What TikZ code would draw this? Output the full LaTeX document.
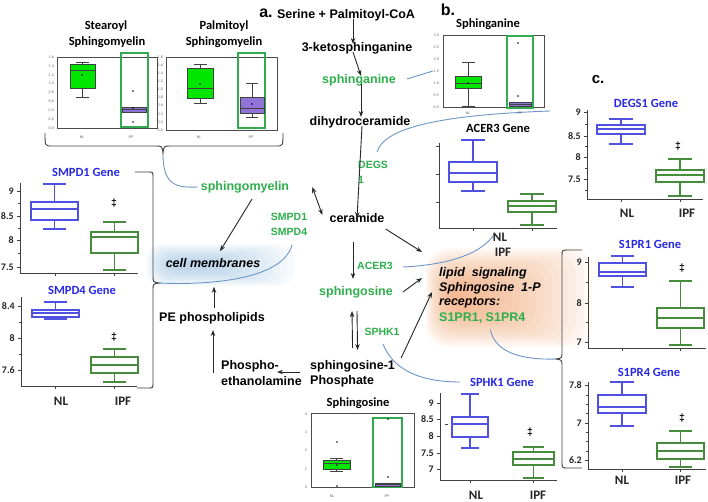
\documentclass[tikz,border=0pt]{standalone}
\usepackage{fontspec}
\setmainfont{Liberation Sans}
\newfontfamily\plotfont{Carlito}
\usetikzlibrary{arrows.meta}
\definecolor{lgreen}{RGB}{45,175,75}
\definecolor{titleblue}{RGB}{40,40,230}
\definecolor{boxblue}{RGB}{80,80,225}
\definecolor{boxgreen}{RGB}{70,140,60}
\definecolor{fgreen}{RGB}{0,230,0}
\definecolor{bpurple}{RGB}{145,115,215}
\definecolor{framegreen}{RGB}{50,170,80}
\definecolor{connblue}{RGB}{110,150,200}
\definecolor{glowor}{RGB}{245,150,90}
\definecolor{glowbl}{RGB}{130,180,220}
\newcommand{\bxp}[8]{%
  \pgfmathsetmacro\bxc{(#1+#2)/2}\pgfmathsetmacro\bxw{(#2-#1)/4}%
  \draw[#8,fill=none] (\bxc,#3) -- (\bxc,#4) (\bxc,#6) -- (\bxc,#7);
  \draw[#8,fill=none] (\bxc-\bxw,#3) -- (\bxc+\bxw,#3) (\bxc-\bxw,#7) -- (\bxc+\bxw,#7);
  \path[#8] (#1,#4) rectangle (#2,#6);
  \draw[#8,fill=none] (#1,#5) -- (#2,#5);
}
\begin{document}
\begin{tikzpicture}[x=1pt,y=-1pt,
 pth/.style={font=\fontsize{12.5}{14}\selectfont\bfseries, inner sep=1pt},
 gpth/.style={pth, text=lgreen},
 enz/.style={font=\fontsize{10.5}{12}\selectfont\bfseries, text=lgreen, inner sep=1pt},
 arr/.style={-{Stealth[length=6pt,width=4.5pt]}, line width=0.9pt, black!85},
 darr/.style={{Stealth[length=6pt,width=4.5pt]}-{Stealth[length=6pt,width=4.5pt]}, line width=0.9pt, black!85},
 conn/.style={draw=connblue, line width=0.9pt},
 ptitle/.style={font=\plotfont\fontsize{12.5}{14}\selectfont\bfseries, inner sep=0pt},
 gtitle/.style={ptitle, text=titleblue},
 ylab/.style={font=\plotfont\fontsize{10}{11}\selectfont\bfseries, inner sep=0pt, anchor=east, text=black!85},
 grp/.style={font=\plotfont\fontsize{13}{14}\selectfont\bfseries, inner sep=0pt, text=black!85},
 tinylab/.style={font=\plotfont\fontsize{4}{4}\selectfont, text=black!60, inner sep=0pt},
 ax/.style={line width=0.9pt, black!75},
 mt/.style={line width=0.6pt, black!75},
 gb/.style={draw=boxblue, line width=1.1pt},
 gg/.style={draw=boxgreen, line width=1.1pt},
 sg/.style={draw=black!75, fill=fgreen, line width=0.6pt},
 sp/.style={draw=black!75, fill=bpurple, line width=0.6pt},
 frm/.style={draw=black!70, line width=0.6pt},
 gfrm/.style={draw=framegreen, line width=1.2pt},
 dag/.style={font=\fontsize{10.5}{10}\selectfont\bfseries, inner sep=0pt},
 brc/.style={draw=black!75, line width=0.9pt},
 big/.style={font=\fontsize{16}{18}\selectfont\bfseries, inner sep=0pt}
]
\useasboundingbox (0,0) rectangle (708,501);
\fill[white] (0,0) rectangle (708,501);

% ---------- glows ----------
\foreach \i in {0,...,15}
  \fill[glowor, opacity=0.055, rounded corners=22] (426+1.5*\i,248+2.5*\i) rectangle (592-8*\i,347-2.5*\i);
\foreach \i in {0,...,11}
  \fill[glowbl, opacity=0.05, rounded corners=14] (146+2*\i,244+1.5*\i) rectangle (294-7*\i,286-1.5*\i);

% ---------- pathway ----------
\node[big] (a) at (266,13) {a.};
\node[pth] (serine) at (346,15) {Serine + Palmitoyl-CoA};
\node[pth] (keto) at (357,48) {3-ketosphinganine};
\node[gpth] (sphinganine) at (359,80) {sphinganine};
\node[pth] (dihydro) at (360,122) {dihydroceramide};
\node[enz,anchor=west] (degs) at (357,165) {DEGS};
\node[enz,anchor=west] (degsone) at (357,180) {1};
\node[pth] (ceramide) at (357,218) {ceramide};
\node[gpth] (sphingomyelin) at (245,187) {sphingomyelin};
\node[enz] (smpd1) at (289,217) {SMPD1};
\node[enz] (smpd4) at (289,232) {SMPD4};
\node[pth, font=\fontsize{12.5}{14}\selectfont\bfseries\itshape] (cellm) at (213,263) {cell membranes};
\node[pth] (pe) at (212,318) {PE phospholipids};
\node[pth,anchor=west] (phospho) at (220,366) {Phospho-};
\node[pth,anchor=west] (ethanol) at (220,381) {ethanolamine};
\node[pth,anchor=west] (s1p) at (309,366) {sphingosine-1};
\node[pth,anchor=west] (phosphate) at (309,381) {Phosphate};
\node[enz] (acer3) at (375,266) {ACER3};
\node[gpth] (sphingosine) at (356,292) {sphingosine};
\node[enz] (sphk1) at (382,332) {SPHK1};
\node[pth, font=\fontsize{12.5}{14}\selectfont\bfseries\itshape, anchor=west] (lip1) at (438,273) {lipid\ \ signaling};
\node[pth, font=\fontsize{12.5}{14}\selectfont\bfseries\itshape, anchor=west] (lip2) at (438,288) {Sphingosine\ \ 1-P};
\node[pth, font=\fontsize{12.5}{14}\selectfont\bfseries\itshape, anchor=west] (lip3) at (438,303) {receptors:};
\node[gpth, anchor=west] (lip4) at (438,318) {S1PR1, S1PR4};

% arrows
\draw[arr] ([xshift=7,yshift=3]serine.south) -- ([xshift=-4,yshift=-3]keto.north);
\draw[arr] ([xshift=-4,yshift=3]keto.south) -- ([xshift=2,yshift=-3]sphinganine.north);
\draw[arr] ([xshift=2,yshift=3]sphinganine.south) -- ([xshift=1,yshift=-2]dihydro.north);
\draw[arr] ([xshift=2,yshift=3]dihydro.south) -- ([yshift=-6]ceramide.north);
\draw[darr] ([shift={(22,0)}]sphingomyelin.east) -- ([shift={(-6,-3)}]ceramide.west);
\draw[arr] ([shift={(7,5)}]sphingomyelin.south) -- ([shift={(7,-6)}]cellm.north);
\draw[arr] ([shift={(2,-3)}]pe.north) -- ([shift={(1,18)}]cellm.south);
\draw[arr] ([shift={(-7,7)}]phospho.west) -- ([shift={(1,5)}]pe.south);
\draw[arr] ([shift={(-9,6)}]s1p.west) -- ([shift={(-3,6)}]phospho.east);
\draw[arr] ([shift={(-4,18)}]ceramide.south) -- ([shift={(-3,-6)}]sphingosine.north);
\draw[arr] ([shift={(0,-11)}]s1p.north) -- ([shift={(-4,12)}]sphingosine.south);
\draw[arr] ([shift={(1,12)}]sphingosine.south) -- ([shift={(5,-9)}]s1p.north);
\draw[arr] ([shift={(0,11)}]ceramide.east) -- ([shift={(-16,-21)}]lip1.west);
\draw[arr] ([shift={(9,0)}]sphingosine.east) -- ([shift={(-16,-10)}]lip2.west);
\draw[arr] ([shift={(5,-8)}]s1p.east) -- ([shift={(-6,4)}]lip2.west);

% ---------- braces ----------
\draw[brc] (45,133) .. controls (45,146) .. (52,146) -- (156,146) .. controls (162,146) .. (163,153) .. controls (164,146) .. (170,146) -- (276,146) .. controls (283,146) .. (283,133);
\draw[brc] (135,172) -- (148,172) .. controls (153,172) .. (153,177) -- (153,276) .. controls (153,282) .. (159,283) .. controls (153,284) .. (153,290) -- (153,383) .. controls (153,388) .. (148,388) -- (137,388);
\draw[brc] (582,250) -- (568,250) .. controls (562,250) .. (562,256) -- (562,352) .. controls (562,358) .. (556,359) .. controls (562,360) .. (562,366) -- (562,462) .. controls (562,468) .. (568,468) -- (582,468);
\coordinate (topbrace) at (163,154);
\coordinate (smpdtip) at (159,283);
\coordinate (s1prtip) at (556,359);
\coordinate (degsplot) at (550,111);
\coordinate (sphplot) at (433,71);

% ---------- blue connectors ----------
\draw[conn] (topbrace) .. controls (163,185) and (176,188) .. ([xshift=-2]sphingomyelin.west);
\draw[conn] ([shift={(3,8)}]smpd4.south) .. controls (282,282) and (200,285) .. (smpdtip);
\draw[conn] ([shift={(10,-1)}]sphinganine.east) -- (sphplot);
\draw[conn] ([shift={(4,-8)}]degs.north) .. controls (385,122) and (470,114) .. (degsplot);
\draw[conn] ([shift={(9,1)}]acer3.east) .. controls (445,265) and (482,255) .. (495,233);
\draw[conn] ([shift={(1,7)}]sphk1.south) .. controls (395,375) and (430,382) .. (460,382);
\draw[conn] ([shift={(8,5)}]lip4.south) .. controls (495,352) and (520,360) .. (s1prtip);

% ---------- Stearoyl Sphingomyelin ----------
\node[ptitle] (st1) at (106,26) {Stearoyl};
\node[ptitle] (st2) at (107,42) {Sphingomyelin};
\draw[frm] (57,57) rectangle (157,128);
\foreach \v [count=\i from 0] in {1.6,1.4,1.2,1.0,0.8,0.6,0.4,0.2,0.0}
  \node[tinylab,anchor=east] at (54,57+\i*8.875) {\v};
\bxp{70}{95}{62}{64}{70}{88}{97}{sg}
\fill (82,75) circle (0.8);
\draw[gfrm] (121,53) rectangle (148,127);
\bxp{122}{146}{107}{107}{109}{112}{112}{sp}
\foreach \y in {91,108,122} \fill (133,\y) circle (0.8);
\node[tinylab] at (82,137) {NL};
\node[tinylab] at (131,137) {IPF};

% ---------- Palmitoyl Sphingomyelin ----------
\node[ptitle] (pa1) at (224,26) {Palmitoyl};
\node[ptitle] (pa2) at (224,42) {Sphingomyelin};
\draw[frm] (166,57) rectangle (277,130);
\foreach \v [count=\i from 0] in {1.8,1.6,1.4,1.2,1.0,0.8,0.6,0.4,0.2,0.0}
  \node[tinylab,anchor=east] at (163,57+\i*8.11) {\v};
\bxp{187}{213}{64}{68}{88}{98}{103}{sg}
\fill (200,84) circle (0.8);
\draw[gfrm] (238,53) rectangle (265,128);
\bxp{240}{264}{83}{97}{108}{113}{117}{sp}
\fill (252,104) circle (0.8);
\node[tinylab] at (199,137) {NL};
\node[tinylab] at (251,137) {IPF};

% ---------- Sphinganine ----------
\node[big] (b) at (448,10) {b.};
\node[ptitle] (spn) at (488,24) {Sphinganine};
\draw[frm] (443,35) rectangle (544,107);
\foreach \v [count=\i from 0] in {3.0,2.5,2.0,1.5,1.0,0.5,0.0}
  \node[tinylab,anchor=east] at (439,35+\i*12) {\v};
\bxp{455}{481}{62}{76}{83}{88}{106}{sg}
\fill (468,83) circle (0.8);
\draw[gfrm] (507,36) rectangle (533,108);
\bxp{509}{531}{102}{102}{104}{106}{106}{sp}
\foreach \y in {43,96} \fill (518,\y) circle (0.8);
\node[tinylab] at (468,113) {NL};
\node[tinylab] at (520,113) {IPF};

% ---------- ACER3 Gene ----------
\node[ptitle] (acert) at (498,128) {ACER3 Gene};
\draw[ax] (439,143) -- (439,228) -- (557,228);
\foreach \y in {146,174,202} \draw[ax] (436,\y) -- (439,\y);
\foreach \x in {473,532} \draw[ax] (\x,228) -- (\x,231);
\bxp{449}{497}{140}{162}{173}{182}{191}{gb}
\bxp{508}{556}{194}{201}{206}{212}{225}{gg}
\node[grp] (acnl) at (500,237) {NL};
\node[grp] (acipf) at (503,252) {IPF};

% ---------- DEGS1 Gene ----------
\node[big, font=\fontsize{15}{17}\selectfont\bfseries] (c) at (598,80) {c.};
\node[gtitle] (degst) at (646,103) {DEGS1 Gene};
\draw[ax] (587,110) -- (587,199) -- (703,199);
\foreach \y/\t in {112/9,136/8.5,157/8,179/7.5} {\draw[ax] (584,\y) -- (587,\y); \node[ylab] at (581,\y) {\t};}
\foreach \y in {124,146.5,168,190} \draw[mt] (585,\y) -- (587,\y);
\foreach \x in {621,680} \draw[ax] (\x,199) -- (\x,202);
\bxp{597}{645}{119}{125}{129}{134}{144}{gb}
\bxp{656}{704}{159}{170}{175}{182}{196}{gg}
\node[dag] at (678,146) {‡};
\node[grp] at (627,213) {NL};
\node[grp] at (687,213) {IPF};

% ---------- S1PR1 Gene ----------
\node[gtitle] (s1t) at (650,244) {S1PR1 Gene};
\draw[ax] (588,257) -- (588,348) -- (706,348);
\foreach \y/\t in {262/9,303/8,342/7} {\draw[ax] (585,\y) -- (588,\y); \node[ylab] at (582,\y) {\t};}
\foreach \y in {282.5,322.5} \draw[mt] (586,\y) -- (588,\y);
\foreach \x in {622,680} \draw[ax] (\x,348) -- (\x,351);
\bxp{599}{646}{256}{263}{272}{276}{287}{gb}
\bxp{657}{704}{281}{308}{318}{328}{345}{gg}
\node[dag] at (682,268) {‡};

% ---------- S1PR4 Gene ----------
\node[gtitle] (s4t) at (649,372) {S1PR4 Gene};
\draw[ax] (588,382) -- (588,469) -- (706,469);
\foreach \y/\t in {385/7.8,423/7,460/6.2} {\draw[ax] (585,\y) -- (588,\y); \node[ylab] at (582,\y) {\t};}
\foreach \y in {395,404,413,432,441,451} \draw[mt] (586,\y) -- (588,\y);
\foreach \x in {622,680} \draw[ax] (\x,469) -- (\x,472);
\bxp{598}{646}{382}{395}{407}{413}{426}{gb}
\bxp{657}{704}{431}{443}{451}{459}{467}{gg}
\node[dag] at (682,418) {‡};
\node[grp] at (622,480) {NL};
\node[grp] at (683,480) {IPF};

% ---------- SPHK1 Gene ----------
\node[gtitle] (spht) at (502,382) {SPHK1 Gene};
\draw[ax] (440,393) -- (440,480) -- (557,480);
\foreach \y/\t in {403/9,419/8.5,436/8,453/7.5,469/7} {\draw[ax] (437,\y) -- (440,\y); \node[ylab] at (434,\y) {\t};}
\draw[mt] (445,424) -- (448,424);
\foreach \x in {470,533} \draw[ax] (\x,480) -- (\x,483);
\bxp{452}{488}{394}{417}{424}{437}{448}{gb}
\bxp{513}{554}{447}{452}{459}{465}{478}{gg}
\node[dag] at (530,432) {‡};
\node[grp] at (476,495) {NL};
\node[grp] at (538,495) {IPF};

% ---------- Sphingosine ----------
\node[ptitle] (sgt) at (358,403) {Sphingosine};
\draw[frm] (311,413) rectangle (414,487);
\foreach \v [count=\i from 0] in {4,3,2,1,0}
  \node[tinylab,anchor=east] at (307,414+\i*18.25) {\v};
\bxp{323}{350}{458}{460}{463}{469}{471}{sg}
\foreach \y in {442,465,486} \fill (337,\y) circle (0.8);
\draw[gfrm] (373,418) rectangle (402,487);
\bxp{375}{400}{483}{483}{484.5}{486}{486}{sp}
\foreach \y in {419,477} \fill (388,\y) circle (0.8);
\node[tinylab] at (332,496) {NL};
\node[tinylab] at (387,496) {IPF};

% ---------- SMPD1 Gene ----------
\node[gtitle] (sm1t) at (86,172) {SMPD1 Gene};
\draw[ax] (20,183) -- (20,273) -- (138,273);
\foreach \y/\t in {191/9,216/8.5,240/8,267/7.5} {\draw[ax] (17,\y) -- (20,\y); \node[ylab] at (14,\y) {\t};}
\foreach \y in {203.5,228,253.5} \draw[mt] (18,\y) -- (20,\y);
\foreach \x in {55,114} \draw[ax] (\x,273) -- (\x,276);
\bxp{31}{78}{184}{202}{209}{220}{229}{gb}
\bxp{91}{138}{222}{232}{237}{253}{270}{gg}
\node[dag] at (114,203) {‡};

% ---------- SMPD4 Gene ----------
\node[gtitle] (sm4t) at (82,290) {SMPD4 Gene};
\draw[ax] (21,297) -- (21,386) -- (137,386);
\foreach \y/\t in {306/8.4,338/8,370/7.6} {\draw[ax] (18,\y) -- (21,\y); \node[ylab] at (15,\y) {\t};}
\foreach \y in {322,354} \draw[mt] (19,\y) -- (21,\y);
\foreach \x in {55,114} \draw[ax] (\x,386) -- (\x,389);
\bxp{32}{79}{302}{310}{313}{317}{319}{gb}
\bxp{91}{138}{349}{357}{365}{373}{382}{gg}
\node[dag] at (114,337) {‡};
\node[grp] at (61,401) {NL};
\node[grp] at (123,401) {IPF};
\end{tikzpicture}
\end{document}
